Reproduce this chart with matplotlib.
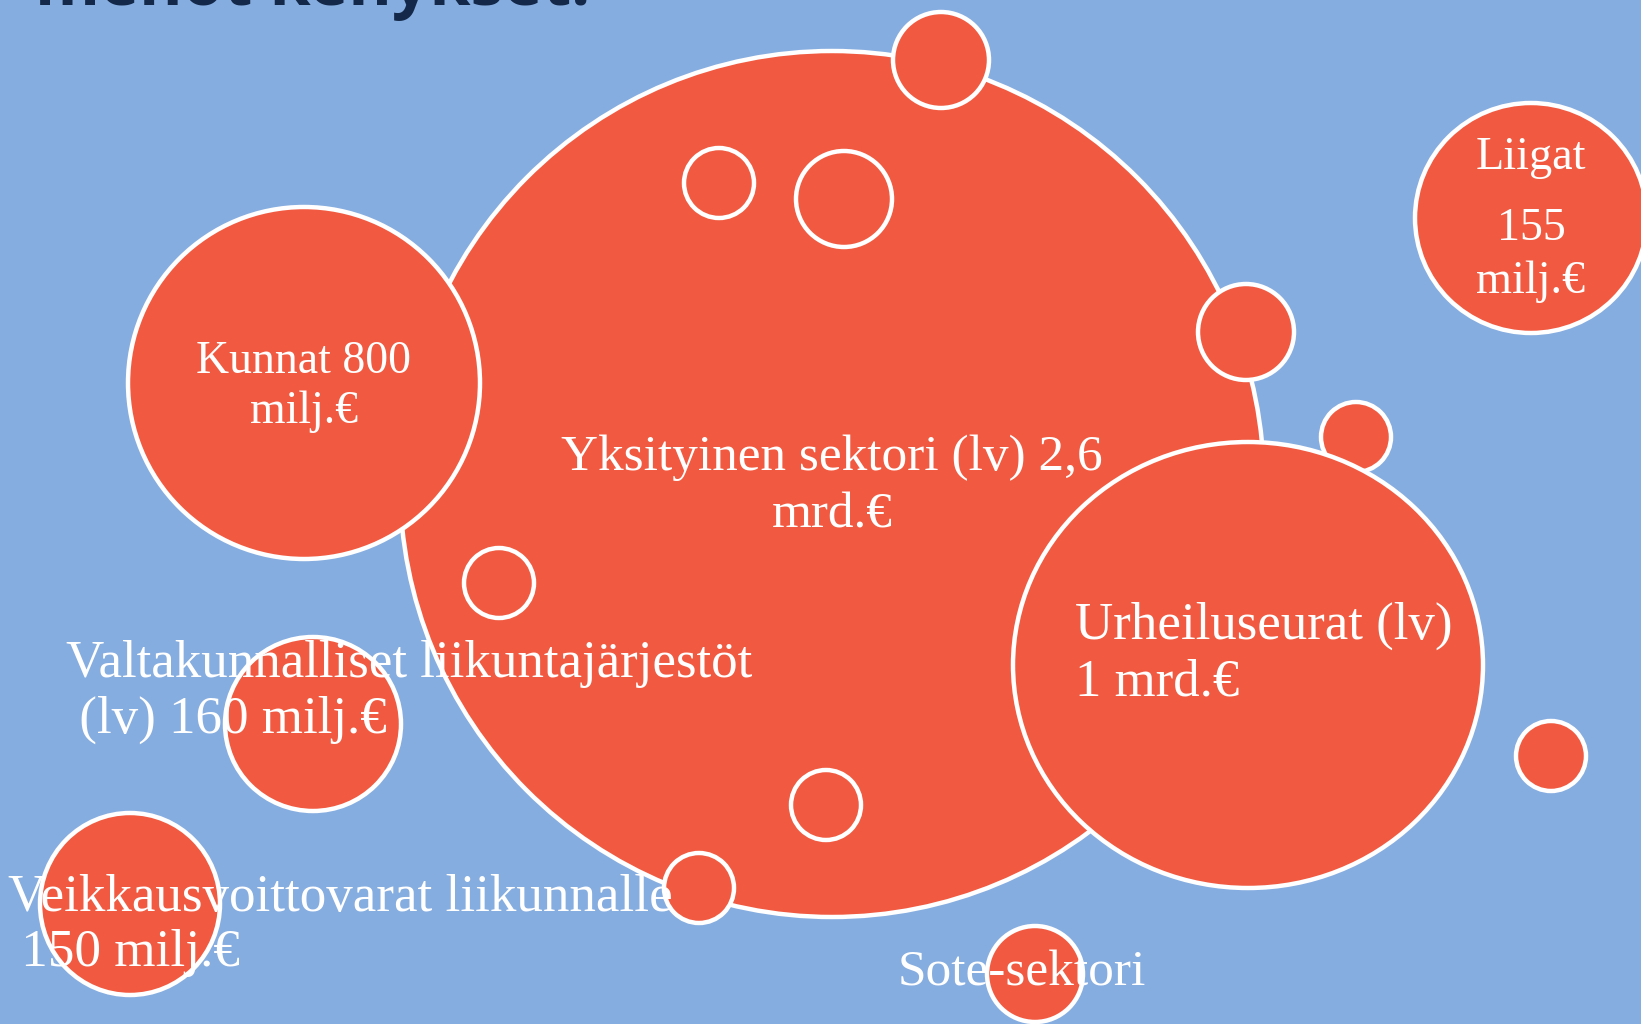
import matplotlib
matplotlib.use("Agg")
import matplotlib.pyplot as plt
from matplotlib.patches import Ellipse

# ---------------- data ----------------
title_text = "menot kehykset."
sectors = ["Yksityinen sektori", "Urheiluseurat", "Kunnat", "Liigat",
           "Valtakunnalliset liikuntajärjestöt", "Veikkausvoittovarat liikunnalle",
           "Sote-sektori"]
amounts = ["2,6 mrd.€", "1 mrd.€", "800 milj.€", "155 milj.€", "160 milj.€",
           "150 milj.€", ""]
label_lines = [
    ["Yksityinen sektori (lv) 2,6", "mrd.€"],
    ["Urheiluseurat (lv)", "1 mrd.€"],
    ["Kunnat 800", "milj.€"],
    ["Liigat", "155", "milj.€"],
    ["Valtakunnalliset liikuntajärjestöt", " (lv) 160 milj.€"],
    ["Veikkausvoittovarat liikunnalle", " 150 milj.€"],
    ["Sote-sektori"],
]

# ---------------- layout (pixel space) ----------------
W, H = 1641, 1024
BG = "#86ADE0"
RED = "#F15A40"
NAVY = "#14294A"

# main bubbles: (cx, cy, rx, ry)
main_bubbles = [
    (832, 484, 432, 433),   # Yksityinen
    (1248, 665, 235, 223),  # Urheiluseurat
    (304, 383, 176, 176),   # Kunnat
    (1531, 218, 116, 115),  # Liigat
    (313, 724, 88, 87),     # Valtakunnalliset
    (130, 904, 90, 91),     # Veikkaus
    (1035, 974, 48, 48),    # Sote
]
small_bubbles = [
    (941, 60, 48), (719, 183, 35), (844, 199, 48), (1246, 332, 48),
    (1356, 437, 35), (499, 583, 35), (826, 805, 35), (699, 888, 35),
    (1551, 756, 35),
]
# text layout: (x, ha, target width of first line, baselines)
text_layout = [
    (832, "center", 540, [470, 527]),
    (1075, "left", 378, [639, 696]),
    (304, "center", 215, [373, 423]),
    (1531, "center", 110, [169, 240, 293]),
    (66, "left", 688, [677, 733]),
    (8, "left", 667, [911, 966]),
    (898, "left", 248, [986]),
]

fig = plt.figure(figsize=(W / 100, H / 100), dpi=100)
fig.patch.set_facecolor(BG)
ax = fig.add_axes([0, 0, 1, 1])
ax.set_xlim(0, W)
ax.set_ylim(H, 0)
ax.set_facecolor(BG)
ax.axis("off")

EDGE = 3.2

def bubble(cx, cy, rx, ry, z):
    ax.add_patch(Ellipse((cx, cy), 2 * rx, 2 * ry, facecolor=RED,
                         edgecolor="white", linewidth=EDGE, zorder=z))

# big private-sector bubble first
cx, cy, rx, ry = main_bubbles[0]
bubble(cx, cy, rx, ry, 1)
for (sx, sy, sr) in small_bubbles:
    bubble(sx, sy, sr, sr, 2)
for i, (cx, cy, rx, ry) in enumerate(main_bubbles[1:], start=1):
    bubble(cx, cy, rx, ry, 3)

renderer = fig.canvas.get_renderer()

def fit_size(txt, target, base):
    t = ax.text(0, 0, txt, fontsize=base, family="Liberation Serif")
    w = t.get_window_extent(renderer).width
    t.remove()
    return base * target / w

for lines, (x, ha, tw, bases) in zip(label_lines, text_layout):
    fs = fit_size(lines[0], tw, 30)
    for k, (ln, by) in enumerate(zip(lines, bases)):
        ax.text(x, by, ln, ha=ha, va="baseline", color="white",
                fontsize=fs, family="Liberation Serif", zorder=10)

# title (cut off at top edge)
ts = 40
t = ax.text(0, 0, title_text, fontsize=ts, family="Open Sans", fontweight="bold")
w = t.get_window_extent(renderer).width
t.remove()
ts = ts * 555 / w
ax.text(35, 5, title_text, ha="left", va="baseline", color=NAVY,
        fontsize=ts, family="Open Sans", fontweight="bold", zorder=10)

fig.savefig("out.png", dpi=100, facecolor=BG)
